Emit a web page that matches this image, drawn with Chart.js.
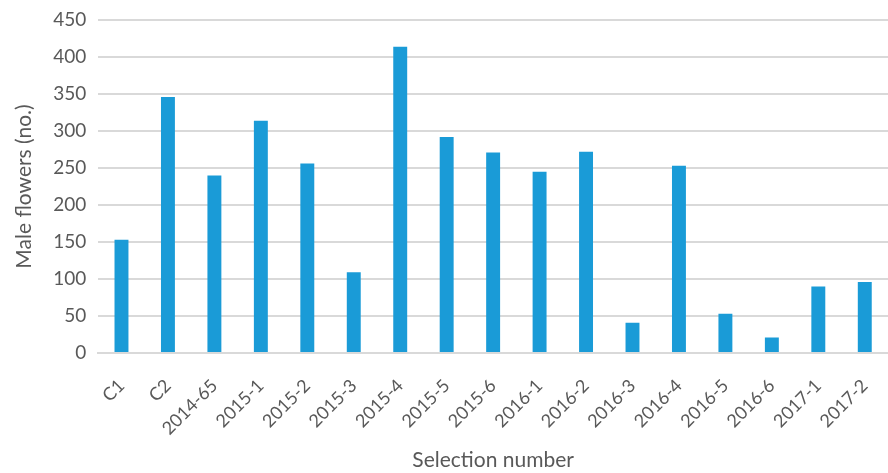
<!DOCTYPE html>
<html>
<head>
<meta charset="utf-8">
<script src="https://cdn.jsdelivr.net/npm/chart.js@4/dist/chart.umd.min.js"></script>
<style>
html,body{margin:0;padding:0;background:#fff;}
#wrap{width:888px;height:473px;position:relative;}
</style>
</head>
<body>
<div id="wrap"><canvas id="c" width="888" height="473"></canvas></div>
<script>
const categories = ["C1","C2","2014-65","2015-1","2015-2","2015-3","2015-4","2015-5","2015-6","2016-1","2016-2","2016-3","2016-4","2016-5","2016-6","2017-1","2017-2"];
const maleFlowers = [153,346,240,314,256,109,414,292,271,245,272,41,253,53,21,90,96];
const yTicks = [0,50,100,150,200,250,300,350,400,450];
const yTitle = "Male flowers (no.)";
const xTitle = "Selection number";

const FONT = "Lato, 'Open Sans', sans-serif";
new Chart(document.getElementById('c'), {
  type: 'bar',
  data: {
    labels: categories,
    datasets: [{
      data: maleFlowers,
      backgroundColor: '#1a9bd7',
      borderWidth: 0,
      categoryPercentage: 1,
      barPercentage: 0.3
    }]
  },
  options: {
    responsive: false,
    animation: false,
    devicePixelRatio: 1,
    layout: { padding: { left: 12, right: 0, top: 0, bottom: 0 } },
    plugins: { legend: { display: false }, tooltip: { enabled: false } },
    scales: {
      x: {
        afterFit: (axis) => { axis.height = 120; axis.paddingRight = 0; axis.paddingLeft = 0; },
        grid: { display: false, drawTicks: false },
        border: { display: true, color: '#d9d9d9', width: 2 },
        ticks: {
          color: '#595959',
          font: { family: FONT, size: 18 },
          minRotation: 45, maxRotation: 45,
          padding: 22,
          autoSkip: false
        },
        title: {
          display: true, text: xTitle, color: '#595959',
          font: { family: FONT, size: 21 },
          padding: { top: 4, bottom: 0 }
        }
      },
      y: {
        min: 0, max: 450,
        afterBuildTicks: (axis) => { axis.ticks = yTicks.map(v => ({ value: v })); },
        afterFit: (axis) => { axis.paddingTop = 20; },
        grid: { color: '#d9d9d9', lineWidth: 2, drawTicks: false },
        border: { display: false },
        ticks: {
          color: '#595959',
          font: { family: FONT, size: 19 },
          padding: 12
        },
        title: {
          display: true, text: yTitle, color: '#595959',
          font: { family: FONT, size: 21 },
          padding: { top: 0, bottom: 4 }
        }
      }
    }
  }
});
</script>
</body>
</html>
